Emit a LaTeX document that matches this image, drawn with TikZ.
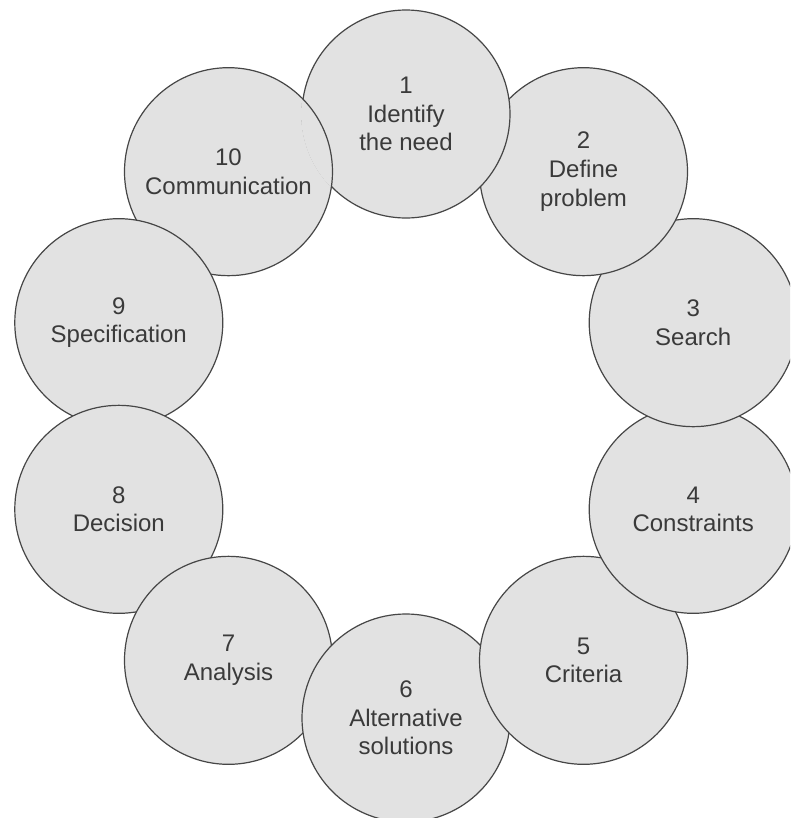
\documentclass[tikz,border=0pt]{standalone}
\usepackage{fontspec}
\setmainfont{Liberation Sans}
\definecolor{discfill}{RGB}{226,226,226}
\definecolor{discline}{RGB}{70,70,70}
\definecolor{disctext}{RGB}{58,58,58}
\tikzset{
  stage/.style={circle, draw=discline, fill=discfill, line width=0.9pt,
    minimum size=156pt, inner sep=0pt, align=center, text=disctext,
    font=\fontsize{18}{21.5}\selectfont},
  discpaint/.style={draw=discline, fill=discfill, line width=0.9pt}
}
\begin{document}
\begin{tikzpicture}[x=0.75pt, y=-0.75pt]
  \useasboundingbox (0,0) rectangle (790,818);
  \fill[white] (0,0) rectangle (790,818);
  \clip (0,0) rectangle (790,818);
  % ten stages on a ring; each stage overlaps the next one
  \begin{scope}[shift={(406,416)}]
    \foreach \k/\txt in {
      10/{10\\Communication},
      9/{9\\Specification},
      8/{8\\Decision},
      7/{7\\Analysis},
      6/{6\\Alternative\\solutions},
      5/{5\\Criteria},
      4/{4\\Constraints},
      3/{3\\Search},
      2/{2\\Define\\problem},
      1/{1\\Identify\\the need}} {
      \pgfmathsetmacro{\ang}{36*(\k-1)-90}
      \node[stage] (c\k) at (\ang:302) {\txt};
    }
  \end{scope}
  % close the cycle: stage 10 lies over stage 1
  \begin{scope}
    \clip (c1.center) circle[radius=78.7pt];
    \path[discpaint] (c10.center) circle[radius=78pt];
  \end{scope}
\end{tikzpicture}
\end{document}
